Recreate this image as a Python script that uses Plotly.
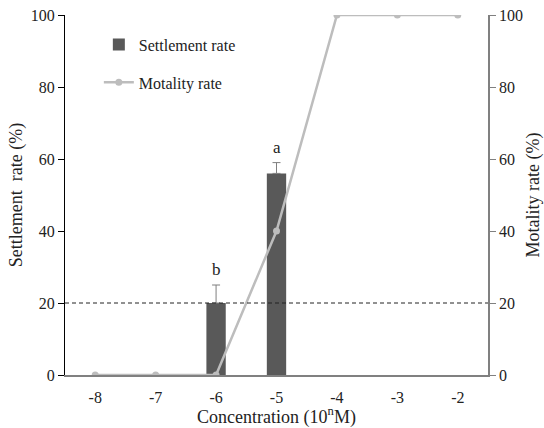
import plotly.graph_objects as go

concentration = ["-8", "-7", "-6", "-5", "-4", "-3", "-2"]
settlement = [0, 0, 20, 56, 0, 0, 0]
settlement_err = [0, 0, 5, 3, 0, 0, 0]
mortality = [0, 0, 0, 40, 100, 100, 100]
sig_labels = ["", "", "b", "a", "", "", ""]
threshold = 20

FONT = "Liberation Serif"
bar_color = "#595959"
line_color = "#bdbdbd"

fig = go.Figure()
fig.add_trace(go.Bar(
    x=concentration, y=settlement, name="Settlement rate",
    marker=dict(color=bar_color, line=dict(width=0)),
    width=0.32, yaxis="y", legendgroup="a",
))

# error bars only where an error exists
idx = [i for i, e in enumerate(settlement_err) if e > 0]
fig.add_trace(go.Scatter(
    x=[concentration[i] for i in idx], y=[settlement[i] for i in idx],
    mode="markers", marker=dict(size=0.1, opacity=0),
    error_y=dict(type="data", array=[settlement_err[i] for i in idx],
                 arrayminus=[0 for i in idx], symmetric=False,
                 color="#7f7f7f", thickness=1, width=4),
    showlegend=False, hoverinfo="skip", yaxis="y",
))

fig.add_trace(go.Scatter(
    x=concentration, y=mortality, name="Motality rate",
    mode="lines+markers",
    line=dict(color=line_color, width=2.5),
    marker=dict(color=line_color, size=7),
    yaxis="y2", legendgroup="b",
))

for i, (v, e, s) in enumerate(zip(settlement, settlement_err, sig_labels)):
    if s:
        fig.add_annotation(x=i, y=v + e, xref="x", yref="y", text=s,
                           showarrow=False, yanchor="bottom", yshift=4,
                           font=dict(family=FONT, size=17, color="#222"))

fig.add_shape(type="line", xref="paper", x0=0, x1=1, yref="y",
              y0=threshold, y1=threshold,
              line=dict(color="#222", width=1, dash="4px,3px"))

fig.update_layout(
    width=544, height=428,
    margin=dict(l=65, r=56, t=15, b=53),
    paper_bgcolor="white", plot_bgcolor="white",
    font=dict(family=FONT, size=16, color="#222"),
    showlegend=True,
    legend=dict(x=0.08, y=0.965, xanchor="left", yanchor="top",
                bgcolor="rgba(0,0,0,0)", font=dict(family=FONT, size=16),
                traceorder="grouped", tracegroupgap=14, itemwidth=30),
    xaxis=dict(type="category", categoryorder="array", categoryarray=concentration,
               range=[-0.5, 6.5], showline=True, linecolor="#808080", linewidth=1.5,
               ticks="", showgrid=False, zeroline=False, ticklabelstandoff=7,
               automargin=False,
               tickfont=dict(family=FONT, size=16),
               title=dict(text="Concentration (10<sup>n</sup>M)", standoff=8,
                          font=dict(family=FONT, size=18))),
    yaxis=dict(range=[0, 100], tickvals=[0, 20, 40, 60, 80, 100],
               showline=True, linecolor="black", linewidth=1.2,
               ticks="outside", ticklen=6, tickcolor="black",
               showgrid=False, zeroline=False, automargin=False,
               tickfont=dict(family=FONT, size=16),
               title=dict(text="Settlement  rate (%)", standoff=3,
                          font=dict(family=FONT, size=18))),
    yaxis2=dict(range=[0, 100], tickvals=[0, 20, 40, 60, 80, 100],
                overlaying="y", side="right",
                showline=True, linecolor="#808080", linewidth=1.5,
                ticks="outside", ticklen=6, tickcolor="#808080",
                showgrid=False, zeroline=False, automargin=False,
                tickfont=dict(family=FONT, size=16),
                title=dict(text="Motality rate (%)", standoff=4,
                           font=dict(family=FONT, size=18))),
)

fig.write_html("out.html")
